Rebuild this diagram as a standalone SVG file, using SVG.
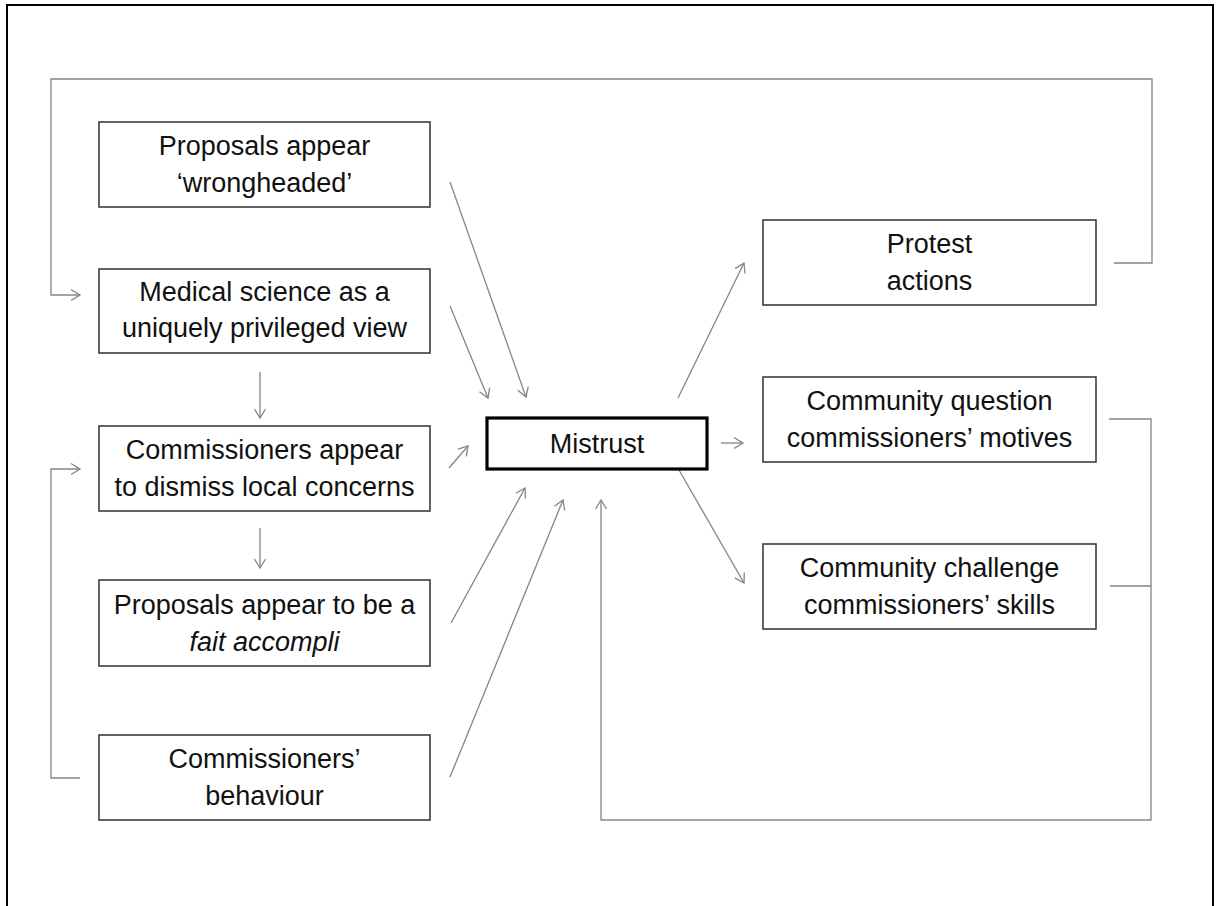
<svg xmlns="http://www.w3.org/2000/svg" width="1221" height="906" viewBox="0 0 1221 906">
<style>
.box{fill:#fff;stroke:#3c3c3c;stroke-width:1.6}
.main{fill:#fff;stroke:#000;stroke-width:3.2}
.t{font-family:"Liberation Sans",Arial,sans-serif;font-size:27px;fill:#111;text-anchor:middle}
.c{fill:none;stroke:#858585;stroke-width:1.3}
.a{marker-end:url(#ah)}
</style>
<defs>
<marker id="ah" viewBox="-11 -7 13 14" refX="0" refY="0" markerWidth="13" markerHeight="14" markerUnits="userSpaceOnUse" orient="auto">
<path d="M-9,-5.5 L0,0 L-9,5.5" fill="none" stroke="#858585" stroke-width="1.3"/>
</marker>
</defs>
<rect x="0" y="0" width="1221" height="906" fill="#fff"/>
<rect x="7" y="5" width="1206" height="920" fill="none" stroke="#000" stroke-width="2"/>

<g id="connectors">
<polyline class="c a" points="1114,263 1152,263 1152,79 51,79 51,295 80,295"/>
<polyline class="c a" points="80,778 51,778 51,469 80,469"/>
<line class="c a" x1="260" y1="372" x2="260" y2="418"/>
<line class="c a" x1="260" y1="528" x2="260" y2="568"/>
<line class="c a" x1="450" y1="182" x2="526" y2="397"/>
<line class="c a" x1="450" y1="306" x2="488" y2="398"/>
<line class="c a" x1="449" y1="468" x2="468" y2="446"/>
<line class="c a" x1="451" y1="623" x2="525" y2="488"/>
<line class="c a" x1="450" y1="777" x2="563" y2="500"/>
<line class="c a" x1="678" y1="398" x2="744" y2="263"/>
<line class="c a" x1="721" y1="443" x2="743" y2="443"/>
<line class="c a" x1="679" y1="470" x2="744" y2="583"/>
<polyline class="c" points="1110,586 1151,586"/>
<polyline class="c a" points="1109,419 1151,419 1151,820 601,820 601,500"/>
</g>

<g id="n1">
<rect class="box" x="99" y="122" width="331" height="85"/>
<text class="t" x="264.5" y="155">Proposals appear</text>
<text class="t" x="264.5" y="192">‘wrongheaded’</text>
</g>
<g id="n2">
<rect class="box" x="99" y="269" width="331" height="84"/>
<text class="t" x="264.5" y="301">Medical science as a</text>
<text class="t" x="264.5" y="337">uniquely privileged view</text>
</g>
<g id="n3">
<rect class="box" x="99" y="426" width="331" height="85"/>
<text class="t" x="264.5" y="459">Commissioners appear</text>
<text class="t" x="264.5" y="496">to dismiss local concerns</text>
</g>
<g id="n4">
<rect class="box" x="99" y="580" width="331" height="86"/>
<text class="t" x="264.5" y="614">Proposals appear to be a</text>
<text class="t" x="264.5" y="651" font-style="italic">fait accompli</text>
</g>
<g id="n5">
<rect class="box" x="99" y="735" width="331" height="85"/>
<text class="t" x="264.5" y="768">Commissioners’</text>
<text class="t" x="264.5" y="805">behaviour</text>
</g>
<g id="mistrust">
<rect class="main" x="487" y="418" width="220" height="51"/>
<text class="t" x="597" y="453">Mistrust</text>
</g>
<g id="protest">
<rect class="box" x="763" y="220" width="333" height="85"/>
<text class="t" x="929.5" y="253">Protest</text>
<text class="t" x="929.5" y="290">actions</text>
</g>
<g id="question">
<rect class="box" x="763" y="377" width="333" height="85"/>
<text class="t" x="929.5" y="410">Community question</text>
<text class="t" x="929.5" y="447">commissioners’ motives</text>
</g>
<g id="challenge">
<rect class="box" x="763" y="544" width="333" height="85"/>
<text class="t" x="929.5" y="577">Community challenge</text>
<text class="t" x="929.5" y="614">commissioners’ skills</text>
</g>
</svg>
